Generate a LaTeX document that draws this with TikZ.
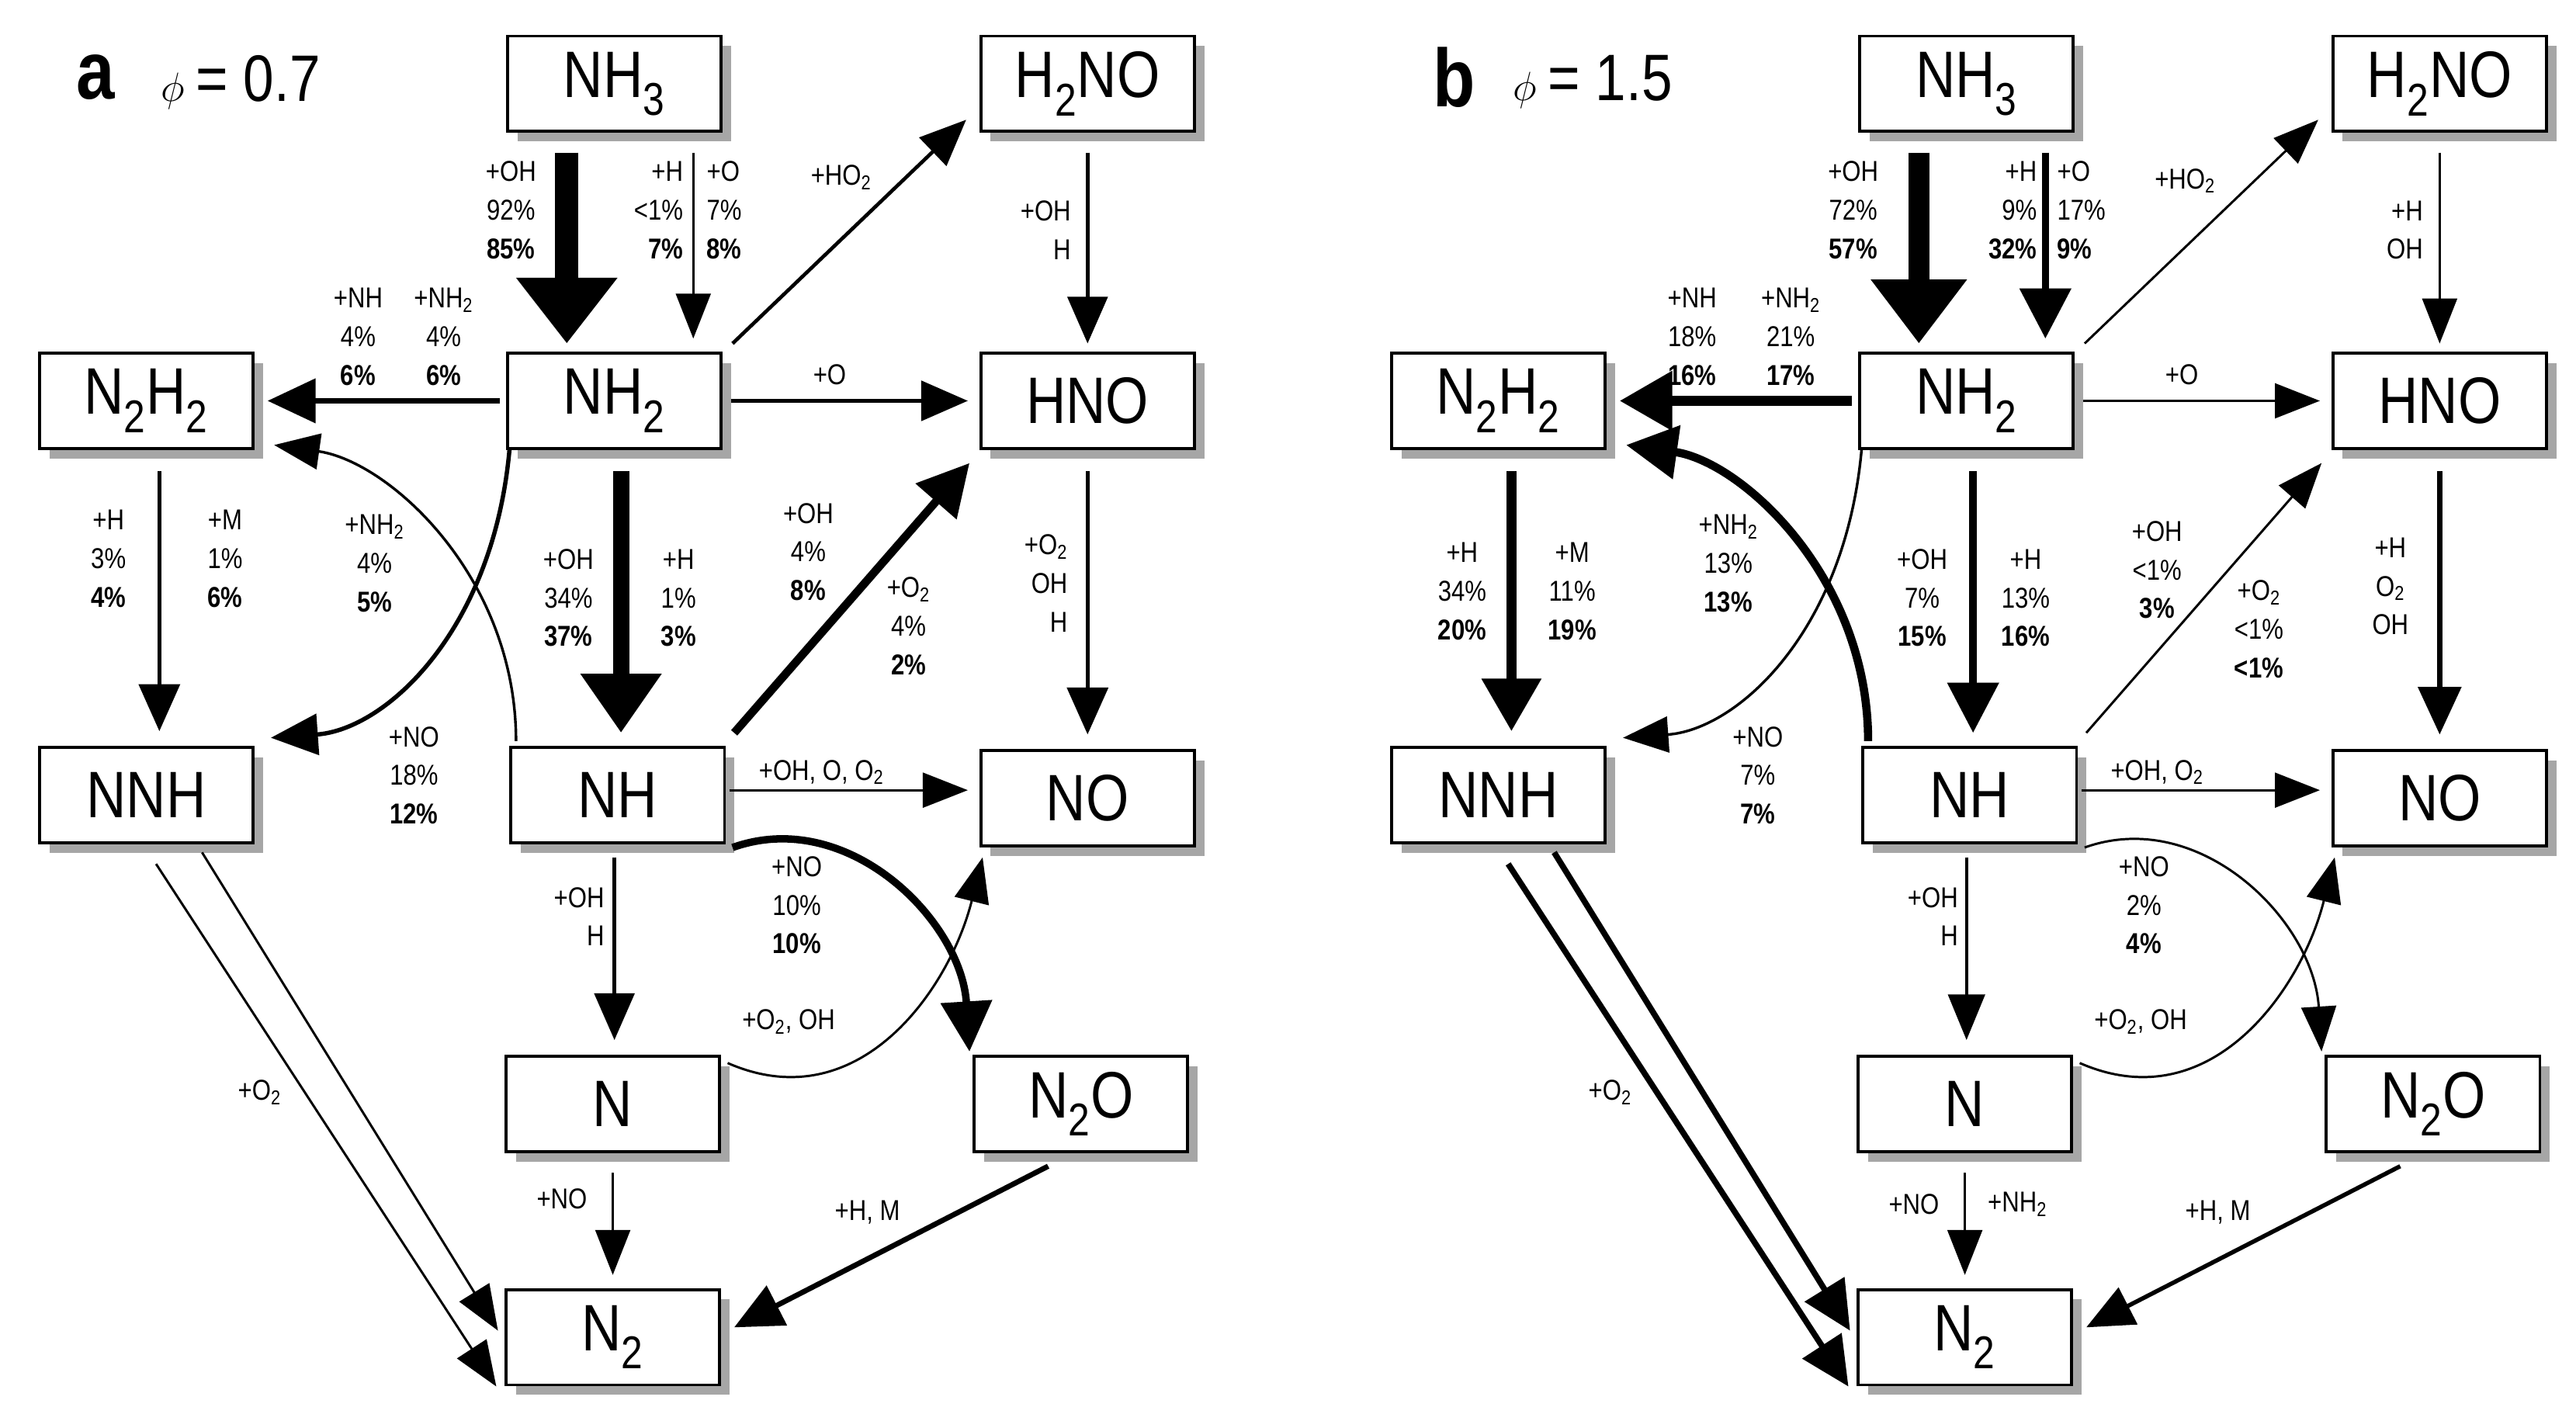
\documentclass[tikz,border=0pt]{standalone}
\usepackage{fontspec}
\setmainfont{Liberation Sans}[FakeStretch=0.84]
\usetikzlibrary{arrows.meta,shadows,calc}
\newcommand\boxfont{\fontsize{40}{42}\selectfont}
\newcommand\labfont{\fontsize{17.5}{23.5}\selectfont}
\newcommand\sub[1]{\textsubscript{#1}}
\newcommand\mkboxes[1]{%
  \node[bx] (#1NH3) at (374,51) {NH\sub{3}};
  \node[bx] (#1H2NO) at (662,51) {H\sub{2}NO};
  \node[bx] (#1N2H2) at (89,244) {N\sub{2}H\sub{2}};
  \node[bx] (#1NH2) at (374,244) {NH\sub{2}};
  \node[bx] (#1HNO) at (662,244) {HNO};
  \node[bx] (#1NNH) at (89,484) {NNH};
  \node[bx] (#1NH) at (376,484) {NH};
  \node[bx] (#1NO) at (662,486) {NO};
  \node[bx] (#1N) at (373,672) {N};
  \node[bx] (#1N2O) at (658,672) {N\sub{2}O};
  \node[bx] (#1N2) at (373,814) {N\sub{2}};
}
\begin{document}
\begin{tikzpicture}[x=1pt,y=-1pt,
  bx/.style={draw,line width=1.8pt,fill=white,minimum width=130pt,minimum height=58pt,inner sep=0pt,font=\boxfont,
    drop shadow={shadow xshift=6pt,shadow yshift=-6pt,fill=black!35,opacity=1}},
  lab/.style={font=\labfont,align=center,inner sep=0pt},
  labr/.style={lab,align=right},
  labl/.style={lab,align=left},
  ar/.style={line width=#1,-{Triangle[length=26pt 1,width=17pt 3]}},
  ar/.default=1.4pt]
\useasboundingbox (0,0) rectangle (1568,865);
% ---------------- panel a
\begin{scope}
\mkboxes{a}
\node[font=\fontsize{50}{50}\selectfont\bfseries,inner sep=0] (atitle) at (58,47) {a};
\node[font=\fontsize{40}{40}\selectfont,inner sep=0,anchor=west] (aphi) at (98,50) {$\phi$\,= 0.7};
\draw[ar=14pt] ($(aNH3.south)+(-29,12)$) -- ($(aNH2.north)+(-29,-5)$);
\draw[ar] ($(aNH3.south)+(48,12)$) -- ($(aNH2.north)+(48,-8)$);
\draw[ar=2.2pt] ($(aNH2.north east)+(6,-5)$) -- ($(aH2NO.south west)+(-8,-8)$);
\draw[ar=2.4pt] ($(aH2NO.south)+(0,12)$) -- ($(aHNO.north)+(0,-5)$);
\draw[ar=2.4pt] ($(aNH2.east)+(5,0)$) -- ($(aHNO.west)+(-7,0)$);
\draw[ar=3.2pt] ($(aNH2.west)+(-4,0)$) -- ($(aN2H2.east)+(8,0)$);
\draw[ar=2.6pt] ($(aN2H2.south)+(8,13)$) -- ($(aNNH.north)+(8,-9)$);
\draw[ar=10pt] ($(aNH2.south)+(4,13)$) -- ($(aNH.north)+(2,-8)$);
\draw[ar=5pt] ($(aNH.north east)+(5,-8)$) -- ($(aHNO.south west)+(-6,8)$);
\draw[ar=2.6pt] ($(aHNO.south)+(0,13)$) -- ($(aNO.north)+(0,-9)$);
\draw[ar] ($(aNH.east)+(2,-3)$) -- ($(aNO.west)+(-7,-5)$);
\draw[ar=2.4pt] ($(aNH.south)+(-2,8)$) -- ($(aN.north)+(1,-9)$);
\draw[ar] ($(aNNH.south)+(6,12)$) -- ($(aN2.west)+(-5,30)$);
\draw[ar] ($(aNNH.south)+(34,5)$) -- ($(aN2.west)+(-4,-4)$);
\draw[ar] ($(aN.south)+(0,12)$) -- ($(aN2.north)+(0,-8)$);
\draw[ar=3.2pt] ($(aN2O.south)+(-20,8)$) -- ($(aN2.east)+(8,-6)$);
\draw[ar=2.6pt] ($(aNH2.south west)+(2,0)$) .. controls +(-10,110) and +(70,-5) .. ($(aNNH.north east)+(10,-5)$);
\draw[ar=1.6pt] ($(aNH.north west)+(4,-3)$) .. controls +(0,-100) and +(70,10) .. ($(aN2H2.south east)+(12,-3)$);
\draw[ar=4.5pt] ($(aNH.south east)+(4,2)$) .. controls +(70,-25) and +(-5,-80) .. ($(aN2O.north west)+(-2,-2)$);
\draw[ar] ($(aN.north east)+(4,5)$) .. controls +(80,35) and +(-20,80) .. ($(aNO.south west)+(2,6)$);
\node[lab] (a1) at (311,128) {+OH\\92\%\\\textbf{85\%}};
\node[labr,anchor=east] (a2) at (416,128) {+H\\<1\%\\\textbf{7\%}};
\node[labl,anchor=west] (a3) at (430,128) {+O\\7\%\\\textbf{8\%}};
\node[lab] (a4) at (512,108) {+HO\sub{2}};
\node[lab] (a5) at (218,205) {+NH\\4\%\\\textbf{6\%}};
\node[lab] (a6) at (270,205) {+NH\sub{2}\\4\%\\\textbf{6\%}};
\node[lab] (a7) at (505,228) {+O};
\node[labr,anchor=east] (a8) at (652,140) {+OH\\H};
\node[lab] (a9) at (66,340) {+H\\3\%\\\textbf{4\%}};
\node[lab] (a10) at (137,340) {+M\\1\%\\\textbf{6\%}};
\node[lab] (a11) at (228,343) {+NH\sub{2}\\4\%\\\textbf{5\%}};
\node[lab] (a12) at (346,364) {+OH\\34\%\\\textbf{37\%}};
\node[lab] (a13) at (413,364) {+H\\1\%\\\textbf{3\%}};
\node[lab] (a14) at (492,336) {+OH\\4\%\\\textbf{8\%}};
\node[lab] (a15) at (553,381) {+O\sub{2}\\4\%\\\textbf{2\%}};
\node[labr,anchor=east] (a16) at (650,355) {+O\sub{2}\\OH\\H};
\node[lab] (a17) at (252,472) {+NO\\18\%\\\textbf{12\%}};
\node[lab] (a18) at (500,470) {+OH, O, O\sub{2}};
\node[lab] (a19) at (485,551) {+NO\\10\%\\\textbf{10\%}};
\node[labr,anchor=east] (a20) at (368,558) {+OH\\H};
\node[lab] (a21) at (480,622) {+O\sub{2}, OH};
\node[lab] (a22) at (158,665) {+O\sub{2}};
\node[lab] (a23) at (342,730) {+NO};
\node[lab] (a24) at (528,738) {+H, M};
\end{scope}
% ---------------- panel b
\begin{scope}[xshift=823pt]
\mkboxes{b}
\node[font=\fontsize{50}{50}\selectfont\bfseries,inner sep=0] (btitle) at (62,47) {b};
\node[font=\fontsize{40}{40}\selectfont,inner sep=0,anchor=west] (bphi) at (98,50) {$\phi$\,= 1.5};
\draw[ar=13pt] ($(bNH3.south)+(-29,12)$) -- ($(bNH2.north)+(-29,-5)$);
\draw[ar=4.5pt] ($(bNH3.south)+(48,12)$) -- ($(bNH2.north)+(48,-8)$);
\draw[ar] ($(bNH2.north east)+(6,-5)$) -- ($(bH2NO.south west)+(-8,-8)$);
\draw[ar] ($(bH2NO.south)+(0,12)$) -- ($(bHNO.north)+(0,-5)$);
\draw[ar] ($(bNH2.east)+(5,0)$) -- ($(bHNO.west)+(-7,0)$);
\draw[ar=6pt] ($(bNH2.west)+(-4,0)$) -- ($(bN2H2.east)+(8,0)$);
\draw[ar=6pt] ($(bN2H2.south)+(8,13)$) -- ($(bNNH.north)+(8,-9)$);
\draw[ar=4.5pt] ($(bNH2.south)+(4,13)$) -- ($(bNH.north)+(2,-8)$);
\draw[ar] ($(bNH.north east)+(5,-8)$) -- ($(bHNO.south west)+(-6,8)$);
\draw[ar=3pt] ($(bHNO.south)+(0,13)$) -- ($(bNO.north)+(0,-9)$);
\draw[ar] ($(bNH.east)+(2,-3)$) -- ($(bNO.west)+(-7,-5)$);
\draw[ar=1.8pt] ($(bNH.south)+(-2,8)$) -- ($(bN.north)+(1,-9)$);
\draw[ar=3.6pt] ($(bNNH.south)+(6,12)$) -- ($(bN2.west)+(-5,30)$);
\draw[ar=3.6pt] ($(bNNH.south)+(34,5)$) -- ($(bN2.west)+(-4,-4)$);
\draw[ar] ($(bN.south)+(0,12)$) -- ($(bN2.north)+(0,-8)$);
\draw[ar=2.6pt] ($(bN2O.south)+(-20,8)$) -- ($(bN2.east)+(8,-6)$);
\draw[ar=1.6pt] ($(bNH2.south west)+(2,0)$) .. controls +(-10,110) and +(70,-5) .. ($(bNNH.north east)+(10,-5)$);
\draw[ar=5pt] ($(bNH.north west)+(4,-3)$) .. controls +(0,-100) and +(70,10) .. ($(bN2H2.south east)+(12,-3)$);
\draw[ar] ($(bNH.south east)+(4,2)$) .. controls +(70,-25) and +(-5,-80) .. ($(bN2O.north west)+(-2,-2)$);
\draw[ar] ($(bN.north east)+(4,5)$) .. controls +(80,35) and +(-20,80) .. ($(bNO.south west)+(2,6)$);
\node[lab] (b1) at (305,128) {+OH\\72\%\\\textbf{57\%}};
\node[labr,anchor=east] (b2) at (417,128) {+H\\9\%\\\textbf{32\%}};
\node[labl,anchor=west] (b3) at (429,128) {+O\\17\%\\\textbf{9\%}};
\node[lab] (b4) at (507,110) {+HO\sub{2}};
\node[labr,anchor=east] (b5) at (652,140) {+H\\OH};
\node[lab] (b6) at (207,205) {+NH\\18\%\\\textbf{16\%}};
\node[lab] (b7) at (267,205) {+NH\sub{2}\\21\%\\\textbf{17\%}};
\node[lab] (b8) at (505,228) {+O};
\node[lab] (b9) at (67,360) {+H\\34\%\\\textbf{20\%}};
\node[lab] (b10) at (134,360) {+M\\11\%\\\textbf{19\%}};
\node[lab] (b11) at (229,343) {+NH\sub{2}\\13\%\\\textbf{13\%}};
\node[lab] (b12) at (347,364) {+OH\\7\%\\\textbf{15\%}};
\node[lab] (b13) at (410,364) {+H\\13\%\\\textbf{16\%}};
\node[lab] (b14) at (490,347) {+OH\\<1\%\\\textbf{3\%}};
\node[lab] (b15) at (552,383) {+O\sub{2}\\<1\%\\\textbf{<1\%}};
\node[lab] (b16) at (632,357) {+H\\O\sub{2}\\OH};
\node[lab] (b17) at (247,472) {+NO\\7\%\\\textbf{7\%}};
\node[lab] (b18) at (490,470) {+OH, O\sub{2}};
\node[lab] (b19) at (482,551) {+NO\\2\%\\\textbf{4\%}};
\node[labr,anchor=east] (b20) at (369,558) {+OH\\H};
\node[lab] (b21) at (480,622) {+O\sub{2}, OH};
\node[lab] (b22) at (157,665) {+O\sub{2}};
\node[lab] (b23) at (342,733) {+NO};
\node[lab] (b24) at (405,733) {+NH\sub{2}};
\node[lab] (b25) at (527,738) {+H, M};
\end{scope}
\end{tikzpicture}
\end{document}
